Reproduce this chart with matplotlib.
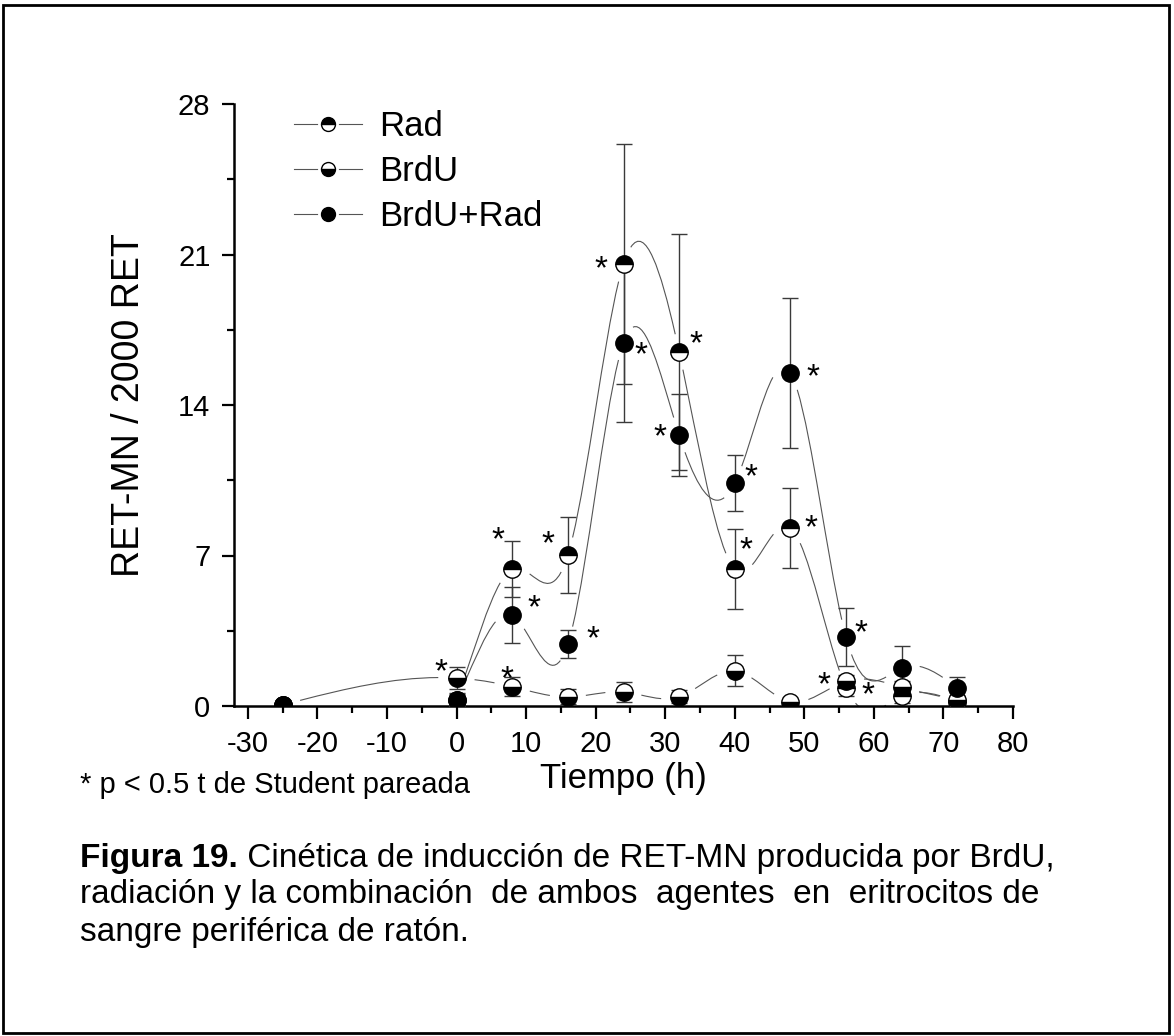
import numpy as np
import matplotlib
matplotlib.use("Agg")
import matplotlib.pyplot as plt
from matplotlib.path import Path
from matplotlib.patches import PathPatch, Rectangle
from matplotlib.lines import Line2D
from matplotlib.legend_handler import HandlerTuple
from matplotlib.ticker import MultipleLocator

plt.rcParams["font.family"] = ["Liberation Sans", "DejaVu Sans"]
plt.rcParams["axes.unicode_minus"] = False

# tiempo (h) y RET-MN / 2000 RET (media +/- error)
tiempo = [-25, 0, 8, 16, 24, 32, 40, 48, 56, 64, 72]
rad = [0.05, 0.3, 6.37, 7.02, 20.56, 16.47, 6.37, 8.28, 0.85, 0.45, 0.2]
rad_err = [0.1, 0.3, 1.3, 1.77, 5.6, 5.5, 1.85, 1.86, 0.4, 0.3, 0.2]
brdu = [0.05, 1.3, 0.9, 0.42, 0.65, 0.43, 1.63, 0.2, 1.15, 0.88, 0.28]
brdu_err = [0.1, 0.5, 0.45, 0.35, 0.45, 0.3, 0.72, 0.1, 0.3, 0.3, 0.2]
brdu_rad = [0.05, 0.28, 4.23, 2.88, 16.9, 12.6, 10.37, 15.5, 3.2, 1.77, 0.84]
brdu_rad_err = [0.1, 0.3, 1.3, 0.67, 3.7, 1.9, 1.3, 3.5, 1.35, 1.0, 0.5]

# asteriscos de significancia (t, valor)
ast_t = [-2.2, 6.0, 7.2, 11.1, 13.2, 19.6, 20.8, 26.5, 34.4, 29.3, 42.3, 41.6, 51.3, 50.9, 58.1, 52.8, 59.1]
ast_y = [1.81, 7.95, 1.49, 4.79, 7.77, 3.35, 20.56, 16.56, 17.07, 12.74, 10.88, 7.49, 15.53, 8.51, 3.63, 1.21, 0.74]

LINE_C = "#555555"
ERR_C = "#3a3a3a"
GAP_PX = 18


def spline_slopes(x, y):
    # pendientes de un spline cubico natural
    x = np.asarray(x, float)
    y = np.asarray(y, float)
    n = len(x)
    h = np.diff(x)
    A = np.zeros((n, n))
    b = np.zeros(n)
    A[0, 0] = A[-1, -1] = 1
    for i in range(1, n - 1):
        A[i, i - 1] = h[i - 1]
        A[i, i] = 2 * (h[i - 1] + h[i])
        A[i, i + 1] = h[i]
        b[i] = 6 * ((y[i + 1] - y[i]) / h[i] - (y[i] - y[i - 1]) / h[i - 1])
    M = np.linalg.solve(A, b)
    d0 = (y[1:] - y[:-1]) / h - h * (2 * M[:-1] + M[1:]) / 6
    d1 = (y[1:] - y[:-1]) / h + h * (M[:-1] + 2 * M[1:]) / 6
    return d0, d1


def bez_point(P, t):
    return ((1 - t) ** 3)[:, None] * P[0] + (3 * (1 - t) ** 2 * t)[:, None] * P[1] \
        + (3 * (1 - t) * t ** 2)[:, None] * P[2] + (t ** 3)[:, None] * P[3]


def bez_split(P, t):
    a = P[0] + (P[1] - P[0]) * t
    b = P[1] + (P[2] - P[1]) * t
    c = P[2] + (P[3] - P[2]) * t
    d = a + (b - a) * t
    e = b + (c - b) * t
    f = d + (e - d) * t
    return np.array([P[0], a, d, f]), np.array([f, e, c, P[3]])


def spline_with_gaps(ax, x, y):
    d0, d1 = spline_slopes(x, y)
    scale = np.abs(ax.transData.transform([(1, 1)]) - ax.transData.transform([(0, 0)]))[0]
    verts, codes = [], []
    for i in range(len(x) - 1):
        h = x[i + 1] - x[i]
        P = np.array([[x[i], y[i]],
                      [x[i] + h / 3, y[i] + h * d0[i] / 3],
                      [x[i + 1] - h / 3, y[i + 1] - h * d1[i] / 3],
                      [x[i + 1], y[i + 1]]])
        ts = np.linspace(0, 1, 400)
        pts = bez_point(P, ts) * scale
        dist0 = np.hypot(*(pts - pts[0]).T)
        dist1 = np.hypot(*(pts - pts[-1]).T)
        ok = np.where((dist0 > GAP_PX) & (dist1 > GAP_PX))[0]
        if len(ok) < 2:
            continue
        t0, t1 = ts[ok[0]], ts[ok[-1]]
        _, right = bez_split(P, t0)
        mid, _ = bez_split(right, (t1 - t0) / (1 - t0))
        verts += list(mid)
        codes += [Path.MOVETO, Path.CURVE4, Path.CURVE4, Path.CURVE4]
    ax.add_patch(PathPatch(Path(verts, codes), fc="none", ec=LINE_C, lw=0.8, zorder=1))


fig = plt.figure(figsize=(11.74, 10.36), dpi=100)
ax = fig.add_axes([234 / 1174, 330 / 1036, 779 / 1174, 602 / 1036])
ax.set_xlim(-32, 80)
ax.set_ylim(0, 28)

series = [
    (rad, rad_err, "Rad", "top"),
    (brdu, brdu_err, "BrdU", "bottom"),
    (brdu_rad, brdu_rad_err, "BrdU+Rad", "full"),
]

handles = []
for vals, errs, label, fill in series:
    spline_with_gaps(ax, tiempo, vals)
    ax.errorbar(tiempo, vals, yerr=errs, fmt="none", ecolor=ERR_C, elinewidth=1.0,
                capsize=6, capthick=1.0, zorder=3)
    ax.plot(tiempo, vals, ls="none", marker="o", ms=12.5, fillstyle=fill,
            mfc="black", mfcalt="white", mec="black", mew=1.0, zorder=4)
    handles.append((
        Line2D([], [], color=LINE_C, lw=0.8),
        Line2D([], [], ls="none", marker="o", ms=14, mfc="white", mec="white"),
        Line2D([], [], ls="none", marker="o", ms=10, fillstyle=fill,
               mfc="black", mfcalt="white", mec="black", mew=1.0),
    ))

for t, v in zip(ast_t, ast_y):
    ax.annotate("*", (t, v), xytext=(0, -4), textcoords="offset points",
                ha="center", va="center", fontsize=24, zorder=5)

ax.legend(handles, [s[2] for s in series],
          handler_map={tuple: HandlerTuple(ndivide=1, pad=0)},
          loc="upper left", bbox_to_anchor=(0.046, 1.03), frameon=False, fontsize=25,
          handlelength=1.95, handletextpad=0.5, labelspacing=0.34, borderpad=0.2)

ax.xaxis.set_major_locator(MultipleLocator(10))
ax.xaxis.set_minor_locator(MultipleLocator(5))
ax.yaxis.set_major_locator(MultipleLocator(7))
ax.yaxis.set_minor_locator(MultipleLocator(3.5))
for s in ["top", "right"]:
    ax.spines[s].set_visible(False)
for s in ["left", "bottom"]:
    ax.spines[s].set_linewidth(1.8)
ax.tick_params(which="major", length=9, width=1.6, labelsize=21, pad=8)
ax.tick_params(which="minor", length=5, width=1.6)
ax.set_xlabel("Tiempo (h)", fontsize=25, labelpad=3)
ax.set_ylabel("RET-MN / 2000 RET", fontsize=27, labelpad=22)

# nota y pie de figura
fig.text(80 / 1174, 1 - 785 / 1036, "* p < 0.5 t de Student pareada", fontsize=21, va="center")
y1 = 1 - 858 / 1036
bold = fig.text(80 / 1174, y1, "Figura 19.", fontsize=24, fontweight="bold", va="center")
r = fig.canvas.get_renderer()
bb = bold.get_window_extent(r)
fig.text(bb.x1 / fig.bbox.width, y1, " Cinética de inducción de RET-MN producida por BrdU,",
         fontsize=24, va="center")
fig.text(80 / 1174, 1 - 895 / 1036, "radiación y la combinación  de ambos  agentes  en  eritrocitos de",
         fontsize=24, va="center")
fig.text(80 / 1174, 1 - 932 / 1036, "sangre periférica de ratón.", fontsize=24, va="center")

fig.patches.append(Rectangle((3 / 1174, 3 / 1036), 1166 / 1174, 1028 / 1036, transform=fig.transFigure,
                             fill=False, ec="black", lw=2, zorder=10))

fig.savefig("out.png", dpi=100)
